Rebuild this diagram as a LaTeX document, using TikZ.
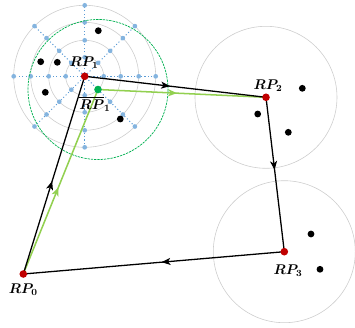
\documentclass[tikz,border=0pt]{standalone}
\usepackage{amsmath}
\usetikzlibrary{arrows.meta,decorations.markings,calc}
\definecolor{myred}{RGB}{192,0,0}
\definecolor{mygreen}{RGB}{0,176,80}
\definecolor{mylime}{RGB}{146,208,80}
\definecolor{myblue}{RGB}{91,155,213}
\definecolor{mygray}{RGB}{205,205,205}

\tikzset{
  refpt/.style={circle, fill=myred, inner sep=0pt, minimum size=6.5pt},
  estpt/.style={circle, fill=mygreen, inner sep=0pt, minimum size=6.5pt},
  obspt/.style={circle, fill=black, inner sep=0pt, minimum size=5.8pt},
  gridpt/.style={circle, fill=myblue!75, inner sep=0pt, minimum size=4pt},
  rangecirc/.style={mygray, line width=0.5pt},
  midarrow/.style={postaction={decorate},
    decoration={markings, mark=at position #1 with
      {\arrow{Stealth[length=7.5pt,width=6pt,inset=2pt]}}}},
  tour/.style={black, line width=1.1pt, midarrow=0.47},
  esttour/.style={mylime, line width=1.3pt, midarrow=0.47},
  lbl/.style={font=\large}
}

\begin{document}
\begin{tikzpicture}[x=0.03cm, y=-0.03cm]
  \useasboundingbox (0,0) rectangle (355,327);

  % reference points
  \coordinate (rp0) at (23.3,274);
  \coordinate (rp1) at (84.7,76.3);
  \coordinate (rp2) at (266,97.3);
  \coordinate (rp3) at (284.3,251.7);
  \coordinate (est) at (98,89.5);

  % search grid around RP1
  \foreach \r in {19,36,54,71}
    \draw[rangecirc] (rp1) circle (\r);
  \foreach \a in {0,45,...,135}
    \draw[myblue, dotted, line width=0.9pt]
      ($(rp1)+(\a:71)$) -- ($(rp1)+(\a+180:71)$);
  \foreach \a in {0,45,...,315}
    \foreach \r in {19,36,54,71}
      \node[gridpt] (g\a-\r) at ($(rp1)+(\a:\r)$) {};

  % ranges of RP2 and RP3
  \draw[rangecirc] (rp2) circle (71);
  \draw[rangecirc] (rp3) circle (71);
  \draw[mygreen, dashed, dash pattern=on 2pt off 0.8pt, line width=0.6pt]
    (est) circle (70);

  % observations
  \foreach \x/\y [count=\i] in {98.3/30.7, 40.7/61.7, 57.3/62.3, 45.3/92.3,
      120.3/119, 302.3/88.3, 257.7/114, 288.3/132.3, 311/234, 320/269.3}
    \node[obspt] (obs\i) at (\x,\y) {};

  % paths
  \draw[esttour] (rp0) -- (est);
  \draw[esttour] (est) -- (rp2);
  \draw[tour] (rp0) -- (rp1);
  \draw[tour] (rp1) -- (rp2);
  \draw[tour] (rp2) -- (rp3);
  \draw[tour] (rp3) -- (rp0);

  \node[refpt] (n0) at (rp0) {};
  \node[refpt] (n1) at (rp1) {};
  \node[refpt] (n2) at (rp2) {};
  \node[refpt] (n3) at (rp3) {};
  \node[estpt] (ne) at (est) {};

  % labels
  \node[lbl] (l0) at (23.3,290) {$\boldsymbol{RP_0}$};
  \node[lbl] (l1) at (84,63) {$\boldsymbol{RP_1}$};
  \node[lbl] (l2) at (268,86) {$\boldsymbol{RP_2}$};
  \node[lbl] (l3) at (288,271) {$\boldsymbol{RP_3}$};
  \node[lbl] (le) at (95,104) {$\boldsymbol{\overline{RP}_1}$};
\end{tikzpicture}
\end{document}
